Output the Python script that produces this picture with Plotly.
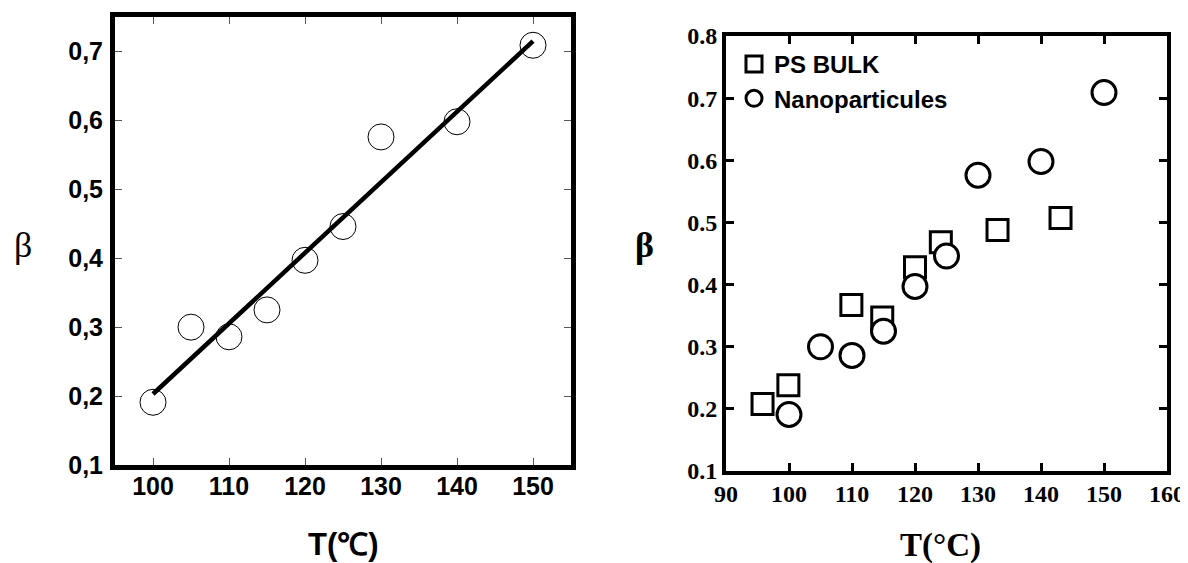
import plotly.graph_objects as go

# ---- data ----
T_nano = [100, 105, 110, 115, 120, 125, 130, 140, 150]
beta_nano = [0.191, 0.300, 0.286, 0.325, 0.397, 0.446, 0.576, 0.598, 0.709]

fit_T = [100, 150]
fit_beta = [0.203, 0.715]

T_bulk = [95.8, 99.9, 109.9, 114.8, 120.0, 124.1, 133.1, 143.1]
beta_bulk = [0.208, 0.238, 0.367, 0.347, 0.428, 0.468, 0.488, 0.507]

left_xticks = [100, 110, 120, 130, 140, 150]
left_yticks = [0.1, 0.2, 0.3, 0.4, 0.5, 0.6, 0.7]
left_yticklabels = ["0,1", "0,2", "0,3", "0,4", "0,5", "0,6", "0,7"]
right_xticks = [90, 100, 110, 120, 130, 140, 150, 160]
right_yticks = [0.1, 0.2, 0.3, 0.4, 0.5, 0.6, 0.7, 0.8]
right_yticklabels = ["0.1", "0.2", "0.3", "0.4", "0.5", "0.6", "0.7", "0.8"]

# page body has an 8px default margin -> figure placed at (8, 8)
OFF = 8
W, H = 1188 - OFF, 563 - OFF


def px(x):
    return (x - OFF) / W


def py(y):
    return 1 - (y - OFF) / H


fig = go.Figure()

# Left panel
fig.add_trace(go.Scatter(x=fit_T, y=fit_beta, mode="lines",
                         line=dict(color="black", width=4.5),
                         xaxis="x", yaxis="y", showlegend=False))
fig.add_trace(go.Scatter(x=T_nano, y=beta_nano, mode="markers",
                         marker=dict(symbol="circle-open", size=26, color="black",
                                     line=dict(width=1, color="black")),
                         xaxis="x", yaxis="y", showlegend=False))

# Right panel
fig.add_trace(go.Scatter(x=T_bulk, y=beta_bulk, mode="markers", name="PS BULK",
                         marker=dict(symbol="square", size=21, color="rgba(0,0,0,0)",
                                     line=dict(width=3, color="black")),
                         xaxis="x2", yaxis="y2"))
fig.add_trace(go.Scatter(x=T_nano, y=beta_nano, mode="markers", name="Nanoparticules",
                         marker=dict(symbol="circle", size=24, color="white",
                                     line=dict(width=3, color="black")),
                         xaxis="x2", yaxis="y2"))

sans_bold = dict(family="Liberation Sans, Arial, sans-serif", size=25, color="black", weight="bold")
serif_bold = dict(family="Liberation Serif, Times New Roman, serif", size=24, color="black", weight="bold")

common = dict(showgrid=False, zeroline=False, automargin=False, showline=True,
              linecolor="black", mirror="ticks", ticks="inside")

fig.update_layout(
    template="none",
    width=W, height=H,
    margin=dict(l=0, r=0, t=0, b=0, pad=0, autoexpand=False),
    paper_bgcolor="white", plot_bgcolor="white",
    xaxis=dict(domain=[px(115), px(571)], range=[95, 155], anchor="y",
               tickvals=left_xticks, ticklen=7, tickwidth=1, tickcolor="#555",
               linewidth=5, tickfont=sans_bold, ticklabelstandoff=-5, **common),
    yaxis=dict(domain=[py(465), py(17)], range=[0.1, 0.75], anchor="x",
               tickvals=left_yticks, ticktext=left_yticklabels,
               ticklen=7, tickwidth=1, tickcolor="#555",
               linewidth=5, tickfont=sans_bold, ticklabelstandoff=2, **common),
    xaxis2=dict(domain=[px(726), px(1167)], range=[90, 160], anchor="y2",
                tickvals=right_xticks, ticklen=8, tickwidth=3, tickcolor="black",
                linewidth=4, tickfont=serif_bold, ticklabelstandoff=-2, **common),
    yaxis2=dict(domain=[py(471), py(36)], range=[0.1, 0.8], anchor="x2",
                tickvals=right_yticks, ticktext=right_yticklabels,
                ticklen=8, tickwidth=3, tickcolor="black",
                linewidth=4, tickfont=serif_bold, ticklabelstandoff=0, **common),
    legend=dict(x=px(734), y=py(42), xanchor="left", yanchor="top",
                bgcolor="rgba(0,0,0,0)", borderwidth=0, itemsizing="trace",
                font=dict(family="Liberation Sans, Arial, sans-serif", size=24,
                          color="black", weight="bold"),
                tracegroupgap=0),
    showlegend=True,
)

annotations = [
    dict(text="β", x=px(23), y=py(245), xref="paper", yref="paper",
         showarrow=False, xanchor="center", yanchor="middle",
         font=dict(family="Liberation Serif, Times New Roman, serif", size=36, color="black")),
    dict(text="T(℃)", x=px(343), y=py(544), xref="paper", yref="paper",
         showarrow=False, xanchor="center", yanchor="middle",
         font=dict(family="Liberation Sans, Arial, sans-serif", size=31, color="black", weight="bold")),
    dict(text="β", x=px(644), y=py(245), xref="paper", yref="paper",
         showarrow=False, xanchor="center", yanchor="middle",
         font=dict(family="Liberation Serif, Times New Roman, serif", size=36, color="black", weight="bold")),
    dict(text="T(°C)", x=px(940), y=py(545), xref="paper", yref="paper",
         showarrow=False, xanchor="center", yanchor="middle",
         font=dict(family="Liberation Serif, Times New Roman, serif", size=33, color="black", weight="bold")),
]
fig.update_layout(annotations=annotations)

fig.write_html("out.html")
